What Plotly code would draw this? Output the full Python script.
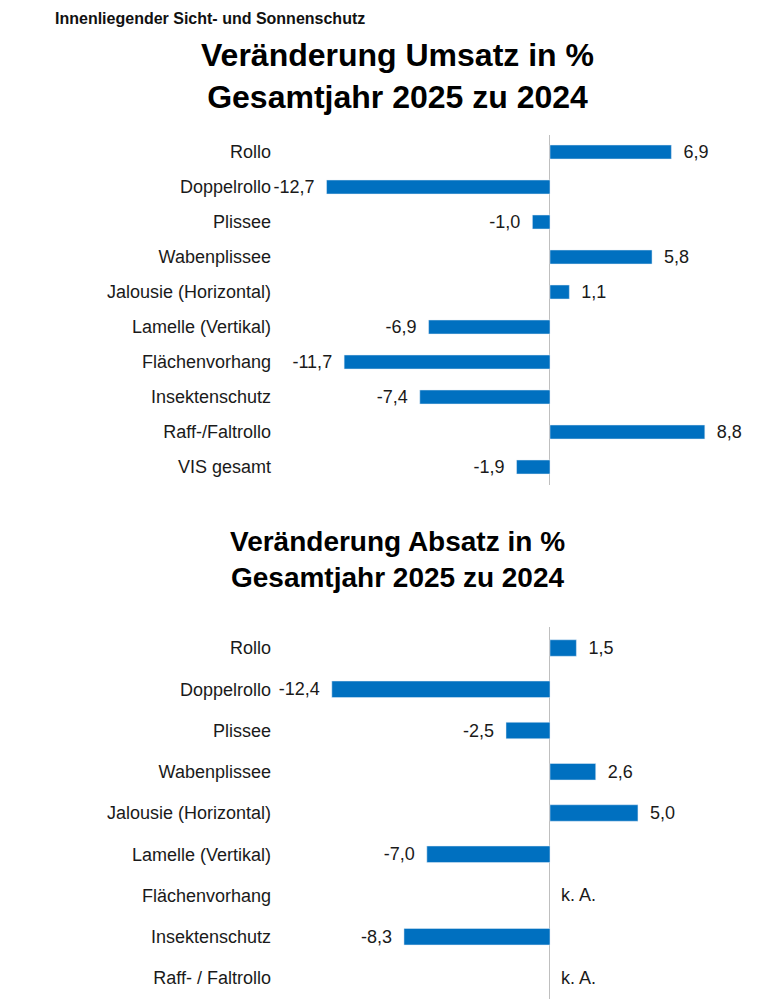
import plotly.graph_objects as go

# data
header = "Innenliegender Sicht- und Sonnenschutz"
title_umsatz = "Veränderung Umsatz in %<br>Gesamtjahr 2025 zu 2024"
title_absatz = "Veränderung Absatz in %<br>Gesamtjahr 2025 zu 2024"

umsatz_cats = ["Rollo", "Doppelrollo", "Plissee", "Wabenplissee", "Jalousie (Horizontal)",
               "Lamelle (Vertikal)", "Flächenvorhang", "Insektenschutz", "Raff-/Faltrollo", "VIS gesamt"]
umsatz_vals = [6.9, -12.7, -1.0, 5.8, 1.1, -6.9, -11.7, -7.4, 8.8, -1.9]

absatz_cats = ["Rollo", "Doppelrollo", "Plissee", "Wabenplissee", "Jalousie (Horizontal)",
               "Lamelle (Vertikal)", "Flächenvorhang", "Insektenschutz", "Raff- / Faltrollo"]
absatz_vals = [1.5, -12.4, -2.5, 2.6, 5.0, -7.0, None, -8.3, None]

BLUE = "#0070C0"
FONT = "Liberation Sans, Arial, sans-serif"
W, H = 770, 1000
OFF = 8  # page body margin, figure sits 8px in from the corner


def px(v):
    return (v - OFF) / W


def py(v):
    return 1 - (v - OFF) / H


def label(v):
    if v is None:
        return ""
    s = f"{v:.1f}".replace(".", ",")
    # en space to push the label a bit away from the bar end
    return "\u2002" + s if v >= 0 else s + "\u2002"


fig = go.Figure()

fig.add_trace(go.Bar(
    x=umsatz_vals, y=umsatz_cats, orientation="h",
    marker_color=BLUE, text=[label(v) for v in umsatz_vals],
    textposition="outside", cliponaxis=False, constraintext="none",
    textfont=dict(size=18, color="#1a1a1a", family=FONT),
    xaxis="x", yaxis="y", showlegend=False, hoverinfo="x+y",
))

fig.add_trace(go.Bar(
    x=absatz_vals, y=absatz_cats, orientation="h",
    marker_color=BLUE, text=[label(v) for v in absatz_vals],
    textposition="outside", cliponaxis=False, constraintext="none",
    textfont=dict(size=18, color="#1a1a1a", family=FONT),
    xaxis="x2", yaxis="y2", showlegend=False, hoverinfo="x+y",
))

xdom = [px(272), px(762)]
xrange = [-15.8, 12.05]
xstyle = dict(range=xrange, domain=xdom, showgrid=False, showticklabels=False, ticks="",
              zeroline=True, zerolinecolor="#bfbfbf", zerolinewidth=1, showline=False, fixedrange=True)
ystyle = dict(autorange="reversed", showgrid=False, showline=False, ticks="",
              tickfont=dict(size=18, color="#1a1a1a", family=FONT), fixedrange=True)

fig.update_layout(
    width=W, height=H,
    margin=dict(l=0, r=0, t=0, b=0),
    paper_bgcolor="white", plot_bgcolor="white",
    font=dict(family=FONT, color="#1a1a1a"),
    bargap=0.6,
    xaxis=dict(anchor="y", **xstyle),
    yaxis=dict(anchor="x", domain=[py(484.5), py(134.5)], **ystyle),
    xaxis2=dict(anchor="y2", **xstyle),
    yaxis2=dict(anchor="x2", domain=[py(998.6), py(627.4)], **ystyle),
)

# header and titles
fig.add_annotation(text="<b>" + header + "</b>", xref="paper", yref="paper",
                   x=px(53), y=py(8), xanchor="left", yanchor="top", showarrow=False,
                   font=dict(size=16, color="#111111", family=FONT))
fig.add_annotation(text="<b>" + title_umsatz + "</b>", xref="paper", yref="paper",
                   x=px(397), y=py(76), xanchor="center", yanchor="middle", showarrow=False,
                   font=dict(size=32, color="#000000", family=FONT))
fig.add_annotation(text="<b>" + title_absatz + "</b>", xref="paper", yref="paper",
                   x=px(398), y=py(559), xanchor="center", yanchor="middle", showarrow=False,
                   font=dict(size=28, color="#000000", family=FONT))

# "k. A." where no value is available
for cat, v in zip(absatz_cats, absatz_vals):
    if v is None:
        fig.add_annotation(text="k. A.", x=0, y=cat, xref="x2", yref="y2",
                           xanchor="left", yanchor="middle", xshift=9, showarrow=False,
                           font=dict(size=18, color="#1a1a1a", family=FONT))

fig.write_html("out.html")
